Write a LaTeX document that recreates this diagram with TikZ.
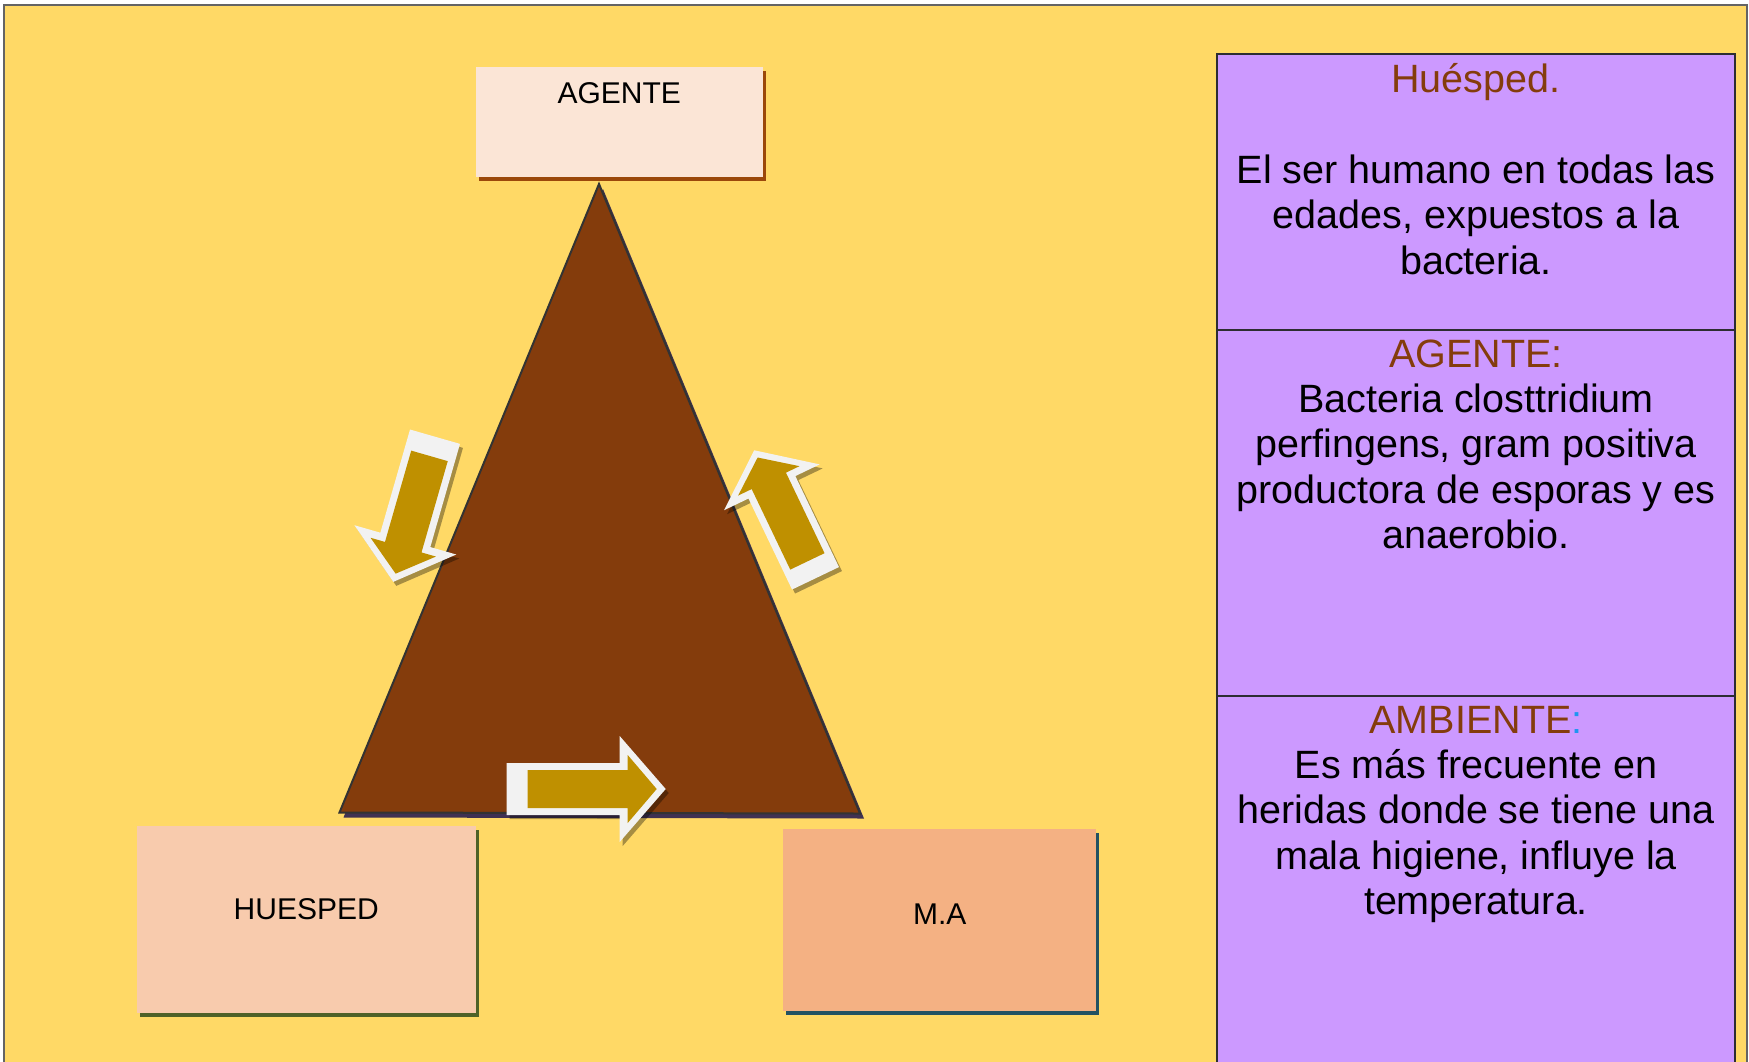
\documentclass[tikz,border=0pt]{standalone}
\usepackage{fontspec}
\setmainfont{Liberation Sans}
\usetikzlibrary{
  positioning,
  shadows
}

\definecolor{bgyellow}{RGB}{255,217,102}
\definecolor{framegray}{RGB}{100,100,100}
\definecolor{panelfill}{RGB}{204,153,255}
\definecolor{paneldraw}{RGB}{45,45,50}
\definecolor{headbrown}{RGB}{132,60,12}
\definecolor{colonblue}{RGB}{30,150,240}
\definecolor{agfill}{RGB}{251,229,214}
\definecolor{agshade}{RGB}{155,72,10}
\definecolor{hufill}{RGB}{248,203,173}
\definecolor{hushade}{RGB}{79,98,40}
\definecolor{mafill}{RGB}{244,177,131}
\definecolor{mashade}{RGB}{35,82,98}
\definecolor{trifill}{RGB}{132,60,12}
\definecolor{trishade}{RGB}{64,49,82}
\definecolor{arrowwhite}{RGB}{242,242,242}
\definecolor{arrowgold}{RGB}{191,144,0}

\begin{document}
\begin{tikzpicture}[
  x=1pt, y=-1pt,
  box/.style={rectangle, inner sep=0pt, font=\fontsize{30}{36}\selectfont},
  agbox/.style={box, fill=agfill, minimum width=287pt, minimum height=110pt, text height=36.6pt, text depth=73.4pt,
    drop shadow={shadow xshift=3pt, shadow yshift=-4pt, fill=agshade, opacity=1}},
  hubox/.style={box, fill=hufill, minimum width=339pt, minimum height=187pt, text height=22pt, text depth=22pt,
    drop shadow={shadow xshift=3pt, shadow yshift=-4pt, fill=hushade, opacity=1}},
  mabox/.style={box, fill=mafill, minimum width=313pt, minimum height=182pt, text height=22pt, text depth=13pt,
    drop shadow={shadow xshift=3pt, shadow yshift=-4pt, fill=mashade, opacity=1}},
  cell/.style={draw=paneldraw, line width=2pt, fill=panelfill, rectangle, minimum width=518pt, inner sep=0pt},
  paneltext/.style={align=center, inner sep=0pt, anchor=base, font=\fontsize{39.5}{45.3}\selectfont},
  tri/.style={draw=black!80, line width=2pt, fill=trifill, line join=miter},
  blockarrow/.pic={
    \fill[arrowwhite] (0,-26) -- (113,-26) -- (113,-53) -- (159,0) -- (113,53) -- (113,26) -- (0,26) -- cycle;
    \fill[arrowgold] (21,-19) -- (121,-19) -- (121,-34) -- (150,0) -- (121,34) -- (121,19) -- (21,19) -- cycle;
  },
  arrowshade/.pic={
    \fill[black, opacity=0.35] (0,-26) -- (113,-26) -- (113,-53) -- (159,0) -- (113,53) -- (113,26) -- (0,26) -- cycle;
  }
]
\useasboundingbox (0,0) rectangle (1749,1061);
\clip (0,0) rectangle (1749,1061);

% Background
\fill[white] (0,0) rectangle (1749,1061);
\fill[bgyellow] (4,5) rectangle (1747,1070);
\draw[framegray, line width=1.5pt] (4,1070) -- (4,5) -- (1747,5) -- (1747,1070);

% Triangle
\coordinate (apex) at (599,184);
\coordinate (baseL) at (339.5,812.5);
\coordinate (baseR) at (860,813.5);
\fill[trishade] ([shift={(4,5)}]apex) -- ([shift={(4,5)}]baseL) -- ([shift={(4,5)}]baseR) -- cycle;
\draw[tri] (apex) -- (baseL) -- (baseR) -- cycle;

% Arrows
\pic[rotate=253.96, xscale=0.95] at (438,440.7) {arrowshade};
\pic[rotate=253.96, xscale=0.95] at (435,436.7) {blockarrow};
\pic[rotate=115.6, xscale=0.893] at (818.5,582.3) {arrowshade};
\pic[rotate=115.6, xscale=0.893] at (815.5,578.3) {blockarrow};
\pic at (509.7,793) {arrowshade};
\pic at (506.7,789) {blockarrow};

% Boxes
\node[agbox] (agente) at (619.2,121.7) {AGENTE};
\node[hubox] (huesped) at (306.2,919.7) {HUESPED};
\node[mabox] (ma) at (939.7,919.5) {M.A};

% Panel
\node[cell, minimum height=275.5pt] (cellA) at (1476,191.75) {};
\node[cell, minimum height=366.5pt] (cellB) at (1476,512.75) {};
\node[cell, minimum height=384pt] (cellC) at (1476,888) {};

% Panel texts (base = last line)
\node[paneltext] (txtA) at (1476,274) {{\color{headbrown}Huésped.}\\[46pt]El ser humano en todas las\\edades, expuestos a la\\bacteria.};
\node[paneltext] (txtB) at (1476,548.5) {{\color{headbrown}AGENTE:}\\Bacteria closttridium\\perfingens, gram positiva\\productora de esporas y es\\anaerobio.};
\node[paneltext] (txtC) at (1476,914.5) {{\color{headbrown}AMBIENTE}{\color{colonblue}:}\\Es más frecuente en\\heridas donde se tiene una\\mala higiene, influye la\\temperatura.};

\end{tikzpicture}
\end{document}
